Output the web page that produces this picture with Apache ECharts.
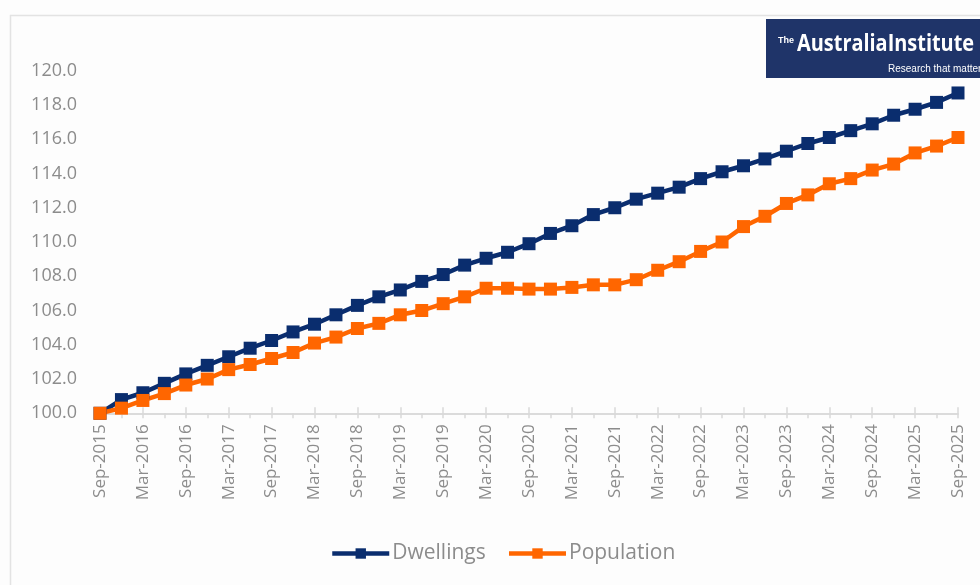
<!DOCTYPE html>
<html>
<head>
<meta charset="utf-8">
<script src="https://cdn.jsdelivr.net/npm/echarts@6/dist/echarts.min.js"></script>
<style>
  html, body { margin: 0; padding: 0; background: #ffffff; }
  #chart { width: 980px; height: 585px; }
</style>
</head>
<body>
<div id="chart"></div>
<script>
// Quarterly index (Sep-2015 = 100)
const quarters = [
  'Sep-2015','Dec-2015','Mar-2016','Jun-2016','Sep-2016','Dec-2016','Mar-2017','Jun-2017',
  'Sep-2017','Dec-2017','Mar-2018','Jun-2018','Sep-2018','Dec-2018','Mar-2019','Jun-2019',
  'Sep-2019','Dec-2019','Mar-2020','Jun-2020','Sep-2020','Dec-2020','Mar-2021','Jun-2021',
  'Sep-2021','Dec-2021','Mar-2022','Jun-2022','Sep-2022','Dec-2022','Mar-2023','Jun-2023',
  'Sep-2023','Dec-2023','Mar-2024','Jun-2024','Sep-2024','Dec-2024','Mar-2025','Jun-2025',
  'Sep-2025'
];

const dwellings = [
  100.0, 100.8, 101.2, 101.75, 102.3, 102.8, 103.3, 103.8,
  104.25, 104.75, 105.2, 105.75, 106.3, 106.8, 107.2, 107.7,
  108.1, 108.65, 109.05, 109.4, 109.9, 110.5, 110.95, 111.6,
  112.0, 112.5, 112.85, 113.2, 113.7, 114.1, 114.45, 114.85,
  115.3, 115.75, 116.1, 116.5, 116.9, 117.4, 117.75, 118.15,
  118.7
];

const population = [
  100.0, 100.3, 100.75, 101.15, 101.65, 102.0, 102.55, 102.85,
  103.2, 103.55, 104.1, 104.45, 104.95, 105.25, 105.75, 106.0,
  106.4, 106.8, 107.3, 107.3, 107.25, 107.25, 107.35, 107.5,
  107.5, 107.8, 108.35, 108.85, 109.45, 110.0, 110.9, 111.5,
  112.25, 112.75, 113.4, 113.7, 114.2, 114.55, 115.2, 115.6,
  116.1
];

const yMin = 100;
const yMax = 120;
const yStep = 2;

const NAVY = '#0a2d6e';
const ORANGE = '#ff6600';
const TEXT_GREY = '#8c8c8c';
const AXIS_GREY = '#d9d9d9';
const FONT = '"Open Sans", "Noto Sans", sans-serif';

const chart = echarts.init(document.getElementById('chart'), null, { renderer: 'canvas' });

function lineSeries(name, data, color) {
  return {
    name: name,
    type: 'line',
    data: data,
    symbol: 'rect',
    symbolSize: 13,
    showAllSymbol: true,
    lineStyle: { color: color, width: 4.5 },
    itemStyle: { color: color },
    emphasis: { disabled: true },
    animation: false
  };
}

const baseXAxis = {
  type: 'category',
  data: quarters,
  boundaryGap: false,
  axisLine: { show: true, lineStyle: { color: AXIS_GREY, width: 1.5 } }
};

chart.setOption({
  backgroundColor: '#fdfdfd',
  animation: false,
  grid: { left: 100, right: 22, top: 70.7, bottom: 171.7, containLabel: false },
  xAxis: [
    Object.assign({}, baseXAxis, {
      axisTick: { show: true, interval: 0, length: 5, lineStyle: { color: AXIS_GREY, width: 1.5 } },
      axisLabel: {
        interval: 1,
        rotate: 90,
        margin: 11,
        color: TEXT_GREY,
        fontFamily: FONT,
        fontSize: 17
      }
    }),
    Object.assign({}, baseXAxis, {
      position: 'bottom',
      axisTick: { show: true, inside: true, interval: 1, length: 6, lineStyle: { color: AXIS_GREY, width: 1.5 } },
      axisLabel: { show: false }
    })
  ],
  yAxis: {
    type: 'value',
    min: yMin,
    max: yMax,
    interval: yStep,
    axisLine: { show: false },
    axisTick: { show: false },
    splitLine: { show: false },
    axisLabel: {
      margin: 23,
      color: TEXT_GREY,
      fontFamily: FONT,
      fontSize: 18,
      formatter: function (v) { return v.toFixed(1); }
    }
  },
  legend: {
    bottom: 16,
    left: 325,
    itemWidth: 57,
    itemHeight: 13,
    itemGap: 21,
    lineStyle: { width: 4.5 },
    textStyle: { color: TEXT_GREY, fontFamily: FONT, fontSize: 21, padding: [0, 0, 0, -2] },
    data: ['Dwellings', 'Population']
  },
  series: [
    lineSeries('Dwellings', dwellings, NAVY),
    lineSeries('Population', population, ORANGE)
  ],
  graphic: [
    {
      type: 'rect',
      z: -10,
      silent: true,
      shape: { x: 10.5, y: 15.5, width: 1000, height: 600 },
      style: { fill: null, stroke: '#e3e3e3', lineWidth: 1.5 }
    },
    {
      type: 'group',
      left: 766,
      top: 19,
      silent: true,
      children: [
        { type: 'rect', shape: { x: 0, y: 0, width: 230, height: 59 }, style: { fill: '#1f3469' } },
        {
          type: 'text', x: 12, y: 17,
          style: { text: 'The', fill: '#ffffff', font: 'bold 9px "Liberation Sans", sans-serif' }
        },
        {
          type: 'text', x: 31, y: 13, scaleX: 0.83,
          style: { text: 'AustraliaInstitute', fill: '#ffffff', font: 'bold 24px "Open Sans", sans-serif' }
        },
        {
          type: 'text', x: 122, y: 45,
          style: { text: 'Research that matters', fill: '#ffffff', font: '10px "Liberation Sans", sans-serif' }
        }
      ]
    }
  ]
});
</script>
</body>
</html>
